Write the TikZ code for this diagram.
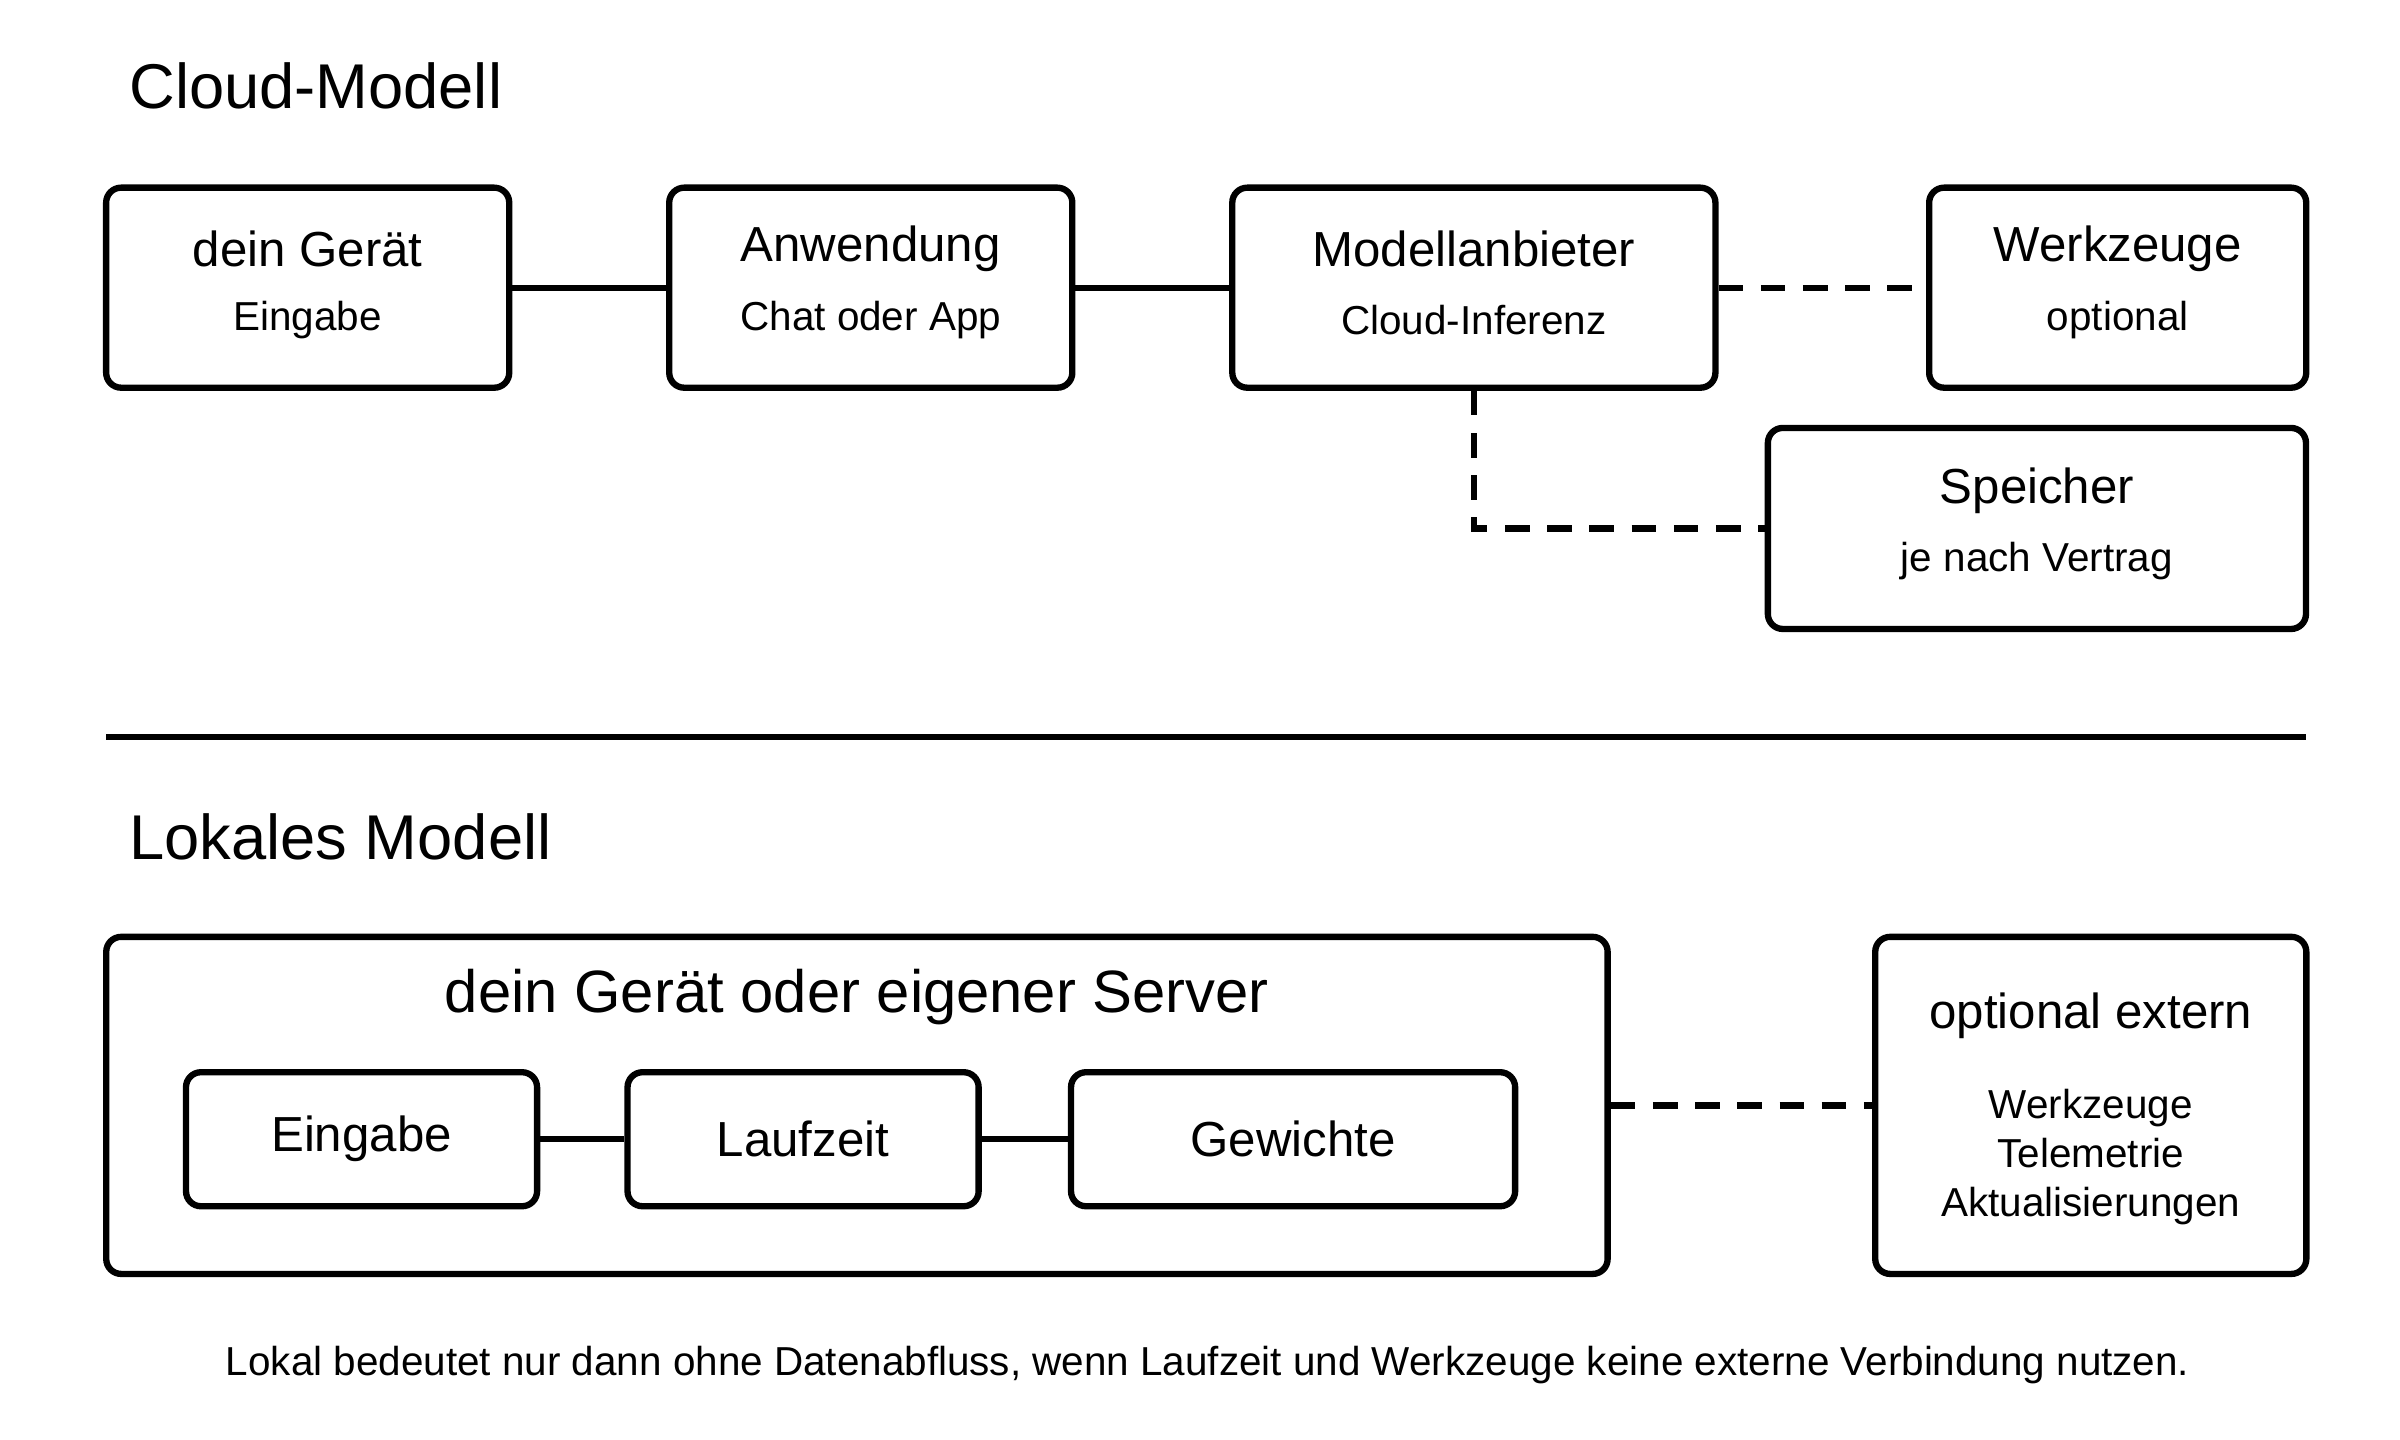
\documentclass[tikz,border=0pt]{standalone}
\usepackage{fontspec}
\setmainfont{Liberation Sans}
\usetikzlibrary{positioning}
\tikzset{
  box/.style={draw, line width=1.8pt, rounded corners=0.15cm, inner sep=0pt},
  link/.style={line width=1.8pt},
  dlink/.style={line width=1.8pt, dash pattern=on 7pt off 5pt},
  head/.style={font=\fontsize{14}{16}\selectfont},
  sub/.style={font=\fontsize{11.5}{14}\selectfont},
}
\begin{document}
\begin{tikzpicture}[x=0.01538cm, y=-0.01538cm]
\useasboundingbox (0,0) rectangle (1560,936);
% titles
\node[anchor=west, font=\fontsize{18}{20}\selectfont] (tcloud) at (76,56) {Cloud-Modell};
\node[anchor=west, font=\fontsize{18}{20}\selectfont] (tlocal) at (76,544) {Lokales Modell};
% cloud boxes
\node[box, minimum width=4.03cm, minimum height=2cm] (geraet) at (200,187) {};
\node[box, minimum width=4.03cm, minimum height=2cm] (anw) at (566,187) {};
\node[box, minimum width=4.83cm, minimum height=2cm] (anb) at (958,187) {};
\node[box, minimum width=3.77cm, minimum height=2cm] (werk) at (1376.5,187) {};
\node[box, minimum width=5.38cm, minimum height=2.01cm] (speich) at (1324,343.5) {};
% cloud labels
\node[head] (geraeth) at (200,162) {dein Gerät};
\node[sub] (geraets) at (200,208) {Eingabe};
\node[head] (anwh) at (566,162) {Anwendung};
\node[sub] (anws) at (566,208) {Chat oder App};
\node[head] (anbh) at (958,162) {Modellanbieter};
\node[sub] (anbs) at (958,208) {Cloud-Inferenz};
\node[head] (werkh) at (1376.5,162) {Werkzeuge};
\node[sub] (werks) at (1376.5,208) {optional};
\node[head] (speichh) at (1324,319) {Speicher};
\node[sub] (speichs) at (1324,365) {je nach Vertrag};
% cloud edges
\draw[link] (geraet) -- (anw);
\draw[link] (anw) -- (anb);
\draw[dlink] (anb) -- (werk);
\draw[dlink] (anb.south) |- (speich.west);
% separator
\coordinate (sepl) at (69,479);
\coordinate (sepr) at (1499,479);
\draw[link] (sepl) -- (sepr);
% local boxes
\node[box, minimum width=15.01cm, minimum height=3.37cm] (lokal) at (557,718.5) {};
\node[head, font=\fontsize{17}{19}\selectfont] (lokalh) at (557,648) {dein Gerät oder eigener Server};
\node[box, minimum width=3.51cm, minimum height=1.34cm, head] (eing) at (235,740.5) {Eingabe};
\node[box, minimum width=3.51cm, minimum height=1.34cm, head] (lauf) at (522,740.5) {Laufzeit};
\node[box, minimum width=4.44cm, minimum height=1.34cm, head] (gew) at (840.5,740.5) {Gewichte};
\node[box, minimum width=4.31cm, minimum height=3.37cm] (ext) at (1359,718.5) {};
\node[head] (exth) at (1359,660) {optional extern};
\node[sub, align=center] (exts) at (1359,752) {Werkzeuge\\Telemetrie\\Aktualisierungen};
% local edges
\draw[link] (eing) -- (lauf);
\draw[link] (lauf) -- (gew);
\draw[dlink] (lokal) -- (ext);
% footer
\node[sub] (fuss) at (785,887) {Lokal bedeutet nur dann ohne Datenabfluss, wenn Laufzeit und Werkzeuge keine externe Verbindung nutzen.};
\end{tikzpicture}
\end{document}
